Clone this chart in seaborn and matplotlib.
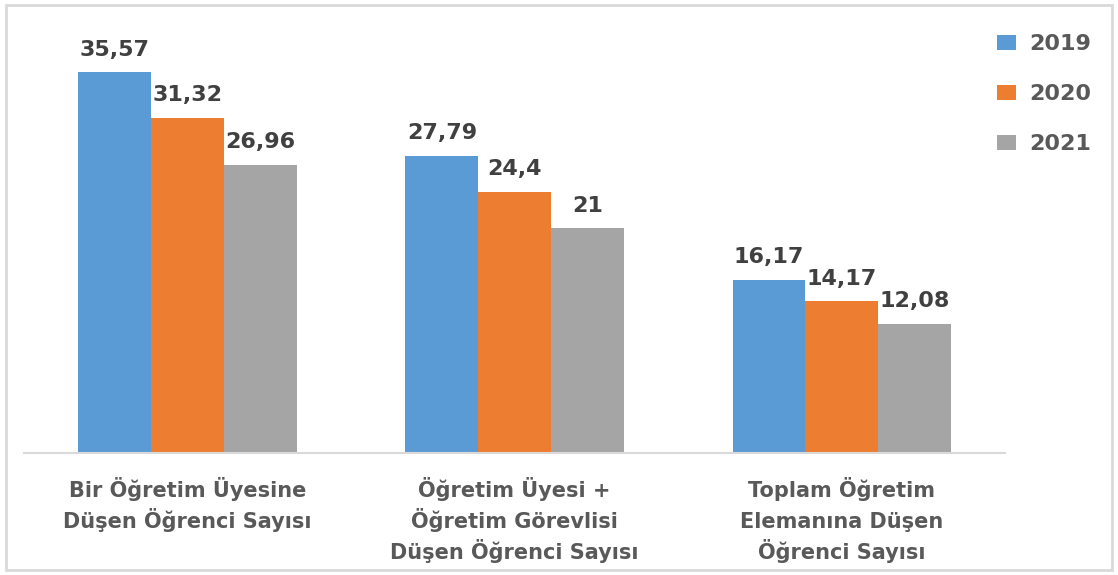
import numpy as np
import pandas as pd
import matplotlib
matplotlib.use('Agg')
import matplotlib.pyplot as plt
import seaborn as sns
from matplotlib.patches import Rectangle, Patch

# data
categories = ['Bir Öğretim Üyesine\nDüşen Öğrenci Sayısı',
              'Öğretim Üyesi +\nÖğretim Görevlisi\nDüşen Öğrenci Sayısı',
              'Toplam Öğretim\nElemanına Düşen\nÖğrenci Sayısı']
years = ['2019', '2020', '2021']
vals_2019 = [35.57, 27.79, 16.17]
vals_2020 = [31.32, 24.4, 14.17]
vals_2021 = [26.96, 21, 12.08]

colors = ['#5B9BD5', '#ED7D31', '#A5A5A5']
txt_color = '#404040'

df = pd.DataFrame({
    'cat': categories * 3,
    'year': [y for y in years for _ in categories],
    'val': vals_2019 + vals_2020 + vals_2021,
})

sns.set_style('white')
plt.rcParams['font.family'] = ['DejaVu Sans']

fig = plt.figure(figsize=(11.18, 5.75), dpi=100)
ax = fig.add_axes([0.0215, 0.2122, 0.8775, 0.7443])

sns.barplot(data=df, x='cat', y='val', hue='year', palette=colors,
            width=0.667, gap=0, saturation=1, linewidth=0, ax=ax, legend=False)

for cont in ax.containers:
    labels = [f'{b.get_height():g}'.replace('.', ',') for b in cont]
    ax.bar_label(cont, labels=labels, padding=9, fontsize=16,
                 fontweight='bold', color=txt_color)

ax.set_ylim(0, 40)
ax.set_xlim(-0.5, 2.5)
ax.set_yticks([])
ax.set_xlabel('')
ax.set_ylabel('')
for s in ['top', 'right', 'left']:
    ax.spines[s].set_visible(False)
ax.spines['bottom'].set_color('#D9D9D9')
ax.spines['bottom'].set_linewidth(1.5)
ax.tick_params(axis='x', length=0)
ax.set_xticks(range(3))
ax.set_xticklabels([])

# category labels line by line so the spacing stays even
tr = ax.get_xaxis_transform()
for i, cat in enumerate(categories):
    for j, line in enumerate(cat.split('\n')):
        ax.annotate(line, xy=(i, 0), xycoords=tr, xytext=(0, -31.5 - 22.3 * j),
                    textcoords='offset points', ha='center', va='baseline',
                    fontsize=15, color='#595959', fontweight='semibold')

handles = [Patch(facecolor=c, edgecolor='none') for c in colors]
leg = fig.legend(handles, years, loc='upper left', bbox_to_anchor=(0.874, 0.975),
                 frameon=False, fontsize=16, handlelength=0.85, handleheight=0.7,
                 handletextpad=0.6, labelspacing=1.35)
for t in leg.get_texts():
    t.set_fontweight('bold')
    t.set_color('#595959')

# light border around the whole picture
fig.patches.append(Rectangle((0.005, 0.008), 0.99, 0.984, transform=fig.transFigure,
                             fill=False, edgecolor='#D9D9D9', linewidth=2))

fig.savefig('out.png', dpi=100)
